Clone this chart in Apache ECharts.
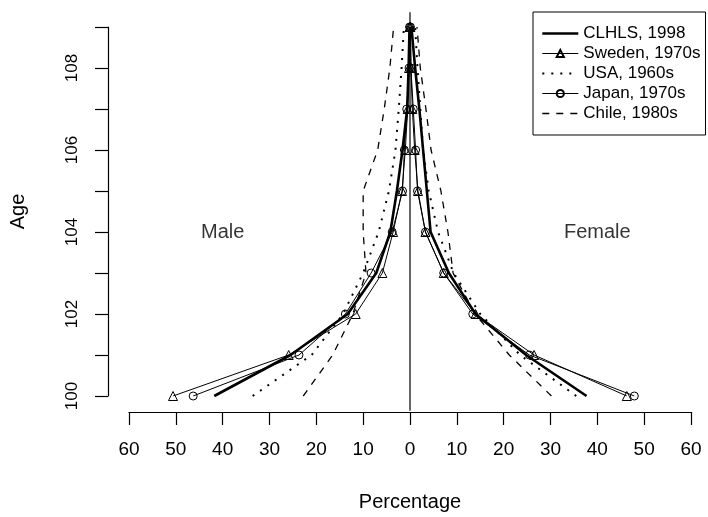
<!DOCTYPE html>
<html>
<head>
<meta charset="utf-8">
<script src="https://cdn.jsdelivr.net/npm/echarts@6/dist/echarts.min.js"></script>
<style>
  html, body { margin: 0; padding: 0; background: #ffffff; }
  #chart { width: 708px; height: 517px; }
</style>
</head>
<body>
<div id="chart"></div>
<script>
// Age groups (centenarians, 100 to 109)
const ages = [100, 101, 102, 103, 104, 105, 106, 107, 108, 109];

// Percentage of centenarians at each age, males and females
const clhlsMale     = [41.8, 25.5, 13.3, 7.2, 4.2, 2.8, 1.6, 0.6, 0.3, 0.1];
const clhlsFemale   = [37.7, 24.8, 14.0, 8.3, 4.4, 3.6, 2.8, 2.0, 1.1, 0.3];
const swedenMale    = [50.6, 25.9, 11.6, 5.9, 3.6, 1.7, 1.0, 0.5, 0.2, 0.1];
const swedenFemale  = [46.3, 26.5, 14.0, 7.2, 3.3, 1.7, 1.0, 0.5, 0.2, 0.1];
const usaMale       = [33.6, 21.0, 14.3, 10.0, 6.7, 4.5, 3.1, 2.4, 1.8, 1.3];
const usaFemale     = [35.5, 23.5, 15.0, 9.3, 6.0, 4.0, 2.8, 2.2, 1.6, 1.1];
const japanMale     = [46.3, 23.7, 13.8, 8.3, 3.8, 1.6, 1.2, 0.7, 0.2, 0.1];
const japanFemale   = [47.9, 25.5, 13.4, 7.2, 3.3, 1.6, 1.2, 0.7, 0.2, 0.1];
const chileMale     = [22.8, 16.5, 12.2, 9.4, 10.0, 10.0, 6.9, 5.5, 4.3, 3.5];
const chileFemale   = [30.2, 21.2, 13.9, 9.2, 8.1, 6.6, 4.5, 3.4, 2.2, 1.5];

const seriesNames = ['CLHLS, 1998', 'Sweden, 1970s', 'USA, 1960s', 'Japan, 1970s', 'Chile, 1980s'];
const sideLabels = ['Male', 'Female'];
const sideLabelPos = [[-40, 104], [40, 104]];

const FONT = '"Liberation Sans", Arial, Helvetica, sans-serif';

// males plotted to the left of zero, females to the right
const toMale = vals => ages.map((a, i) => [-vals[i], a]);
const toFemale = vals => ages.map((a, i) => [vals[i], a]);

const styles = [
  { lineStyle: { width: 2.6, type: 'solid' }, symbol: 'none', symbolSize: 0 },
  { lineStyle: { width: 1, type: 'solid' }, symbol: 'triangle', symbolSize: 9 },
  { lineStyle: { width: 2, type: [2, 7], cap: 'butt' }, symbol: 'none', symbolSize: 0 },
  { lineStyle: { width: 1, type: 'solid' }, symbol: 'circle', symbolSize: 8 },
  { lineStyle: { width: 1.3, type: [7, 7] }, symbol: 'none', symbolSize: 0 }
];
const pairs = [
  [clhlsMale, clhlsFemale],
  [swedenMale, swedenFemale],
  [usaMale, usaFemale],
  [japanMale, japanFemale],
  [chileMale, chileFemale]
];

const series = [];
pairs.forEach((p, k) => {
  [toMale(p[0]), toFemale(p[1])].forEach(d => {
    series.push({
      name: seriesNames[k],
      type: 'line',
      data: d,
      symbol: styles[k].symbol,
      symbolSize: styles[k].symbolSize,
      showSymbol: styles[k].symbol !== 'none',
      lineStyle: Object.assign({ color: '#000' }, styles[k].lineStyle),
      itemStyle: { color: 'rgba(255,255,255,0)', borderColor: '#000', borderWidth: 1 },
      emphasis: { disabled: true },
      z: 3
    });
  });
});

// vertical reference line at zero across the plotting region
series.push({
  name: 'zero',
  type: 'line',
  data: [[0, 99.64], [0, 109.36]],
  clip: false,
  symbol: 'none',
  lineStyle: { color: '#000', width: 1.2 },
  silent: true,
  z: 2
});

// side labels
series.push({
  name: 'sides',
  type: 'scatter',
  data: sideLabelPos.map((p, i) => ({ value: p, label: { formatter: sideLabels[i] } })),
  symbolSize: 1,
  itemStyle: { color: 'rgba(0,0,0,0)' },
  label: { show: true, position: 'inside', color: '#000', fontSize: 20, fontFamily: FONT },
  silent: true
});

// legend entries: series without markers hide the legend symbol
const legendData = seriesNames.map((n, k) => {
  const item = { name: n };
  if (styles[k].symbol === 'none') {
    item.itemStyle = { opacity: 0 };
  }
  return item;
});

const chart = echarts.init(document.getElementById('chart'), null, { renderer: 'canvas' });
chart.setOption({
  animation: false,
  backgroundColor: '#ffffff',
  grid: { left: 128, right: 17, top: 27, bottom: 117, containLabel: false },
  xAxis: {
    type: 'value',
    min: -60, max: 60, interval: 10,
    offset: 16,
    name: 'Percentage',
    nameLocation: 'middle',
    nameGap: 80,
    nameTextStyle: { color: '#000', fontSize: 20, fontFamily: FONT },
    axisLine: { show: true, onZero: false, lineStyle: { color: '#000', width: 1.2 } },
    axisTick: { show: true, length: 13, lineStyle: { color: '#000', width: 1.2 } },
    axisLabel: { color: '#000', fontSize: 19, fontFamily: FONT, margin: 28, formatter: v => String(Math.abs(v)) },
    splitLine: { show: false }
  },
  yAxis: {
    type: 'value',
    min: 100, max: 109, interval: 1,
    offset: 21,
    name: 'Age',
    nameLocation: 'middle',
    nameGap: 80,
    nameTextStyle: { color: '#000', fontSize: 20, fontFamily: FONT },
    axisLine: { show: true, onZero: false, lineStyle: { color: '#000', width: 1.2 } },
    axisTick: { show: true, length: 13, lineStyle: { color: '#000', width: 1.2 } },
    axisLabel: { color: '#000', fontSize: 17, fontFamily: FONT, rotate: 90, margin: 27,
      formatter: v => (v % 2 === 0 ? String(v) : '') },
    splitLine: { show: false }
  },
  legend: {
    data: legendData,
    orient: 'vertical',
    left: 533, top: 12,
    padding: [13, 5, 13, 8],
    itemGap: 3,
    itemWidth: 36,
    itemHeight: 9,
    backgroundColor: '#fff',
    borderColor: '#000',
    borderWidth: 1,
    borderRadius: 0,
    lineStyle: { width: 'inherit' },
    textStyle: { color: '#000', fontSize: 17, fontFamily: FONT },
    selectedMode: false
  },
  series: series
});
</script>
</body>
</html>
